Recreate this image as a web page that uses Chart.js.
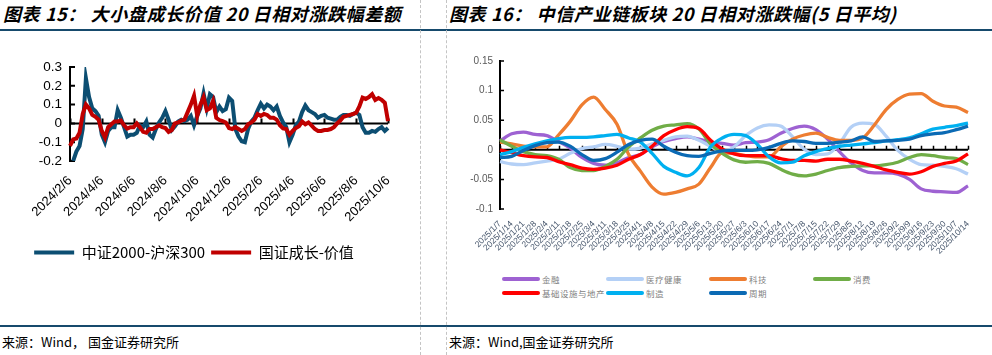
<!DOCTYPE html>
<html><head><meta charset="utf-8">
<script src="https://cdn.jsdelivr.net/npm/chart.js@4.4.0/dist/chart.umd.min.js"></script>
<style>
html,body{margin:0;padding:0;background:#fff;}
#page{position:relative;width:992px;height:355px;overflow:hidden;font-family:"Noto Sans CJK SC",sans-serif;background:#fff;}
.title{position:absolute;top:0px;font-size:18px;line-height:26px;font-weight:bold;font-style:italic;color:#000;white-space:nowrap;letter-spacing:0.6px;}
.hline{position:absolute;left:0;width:992px;height:2px;background:#164a6c;}
.vdash{position:absolute;top:0;height:355px;width:0;border-left:1px dashed #c4c4c4;}
.foot{position:absolute;top:333px;font-size:13px;line-height:18px;color:#000;white-space:nowrap;}
#c1wrap{position:absolute;left:0;top:40px;width:420px;height:240px;}
#c2wrap{position:absolute;left:447px;top:40px;width:545px;height:215px;}
.li{position:absolute;height:12px;display:flex;align-items:center;white-space:nowrap;}
.li span.ln{display:inline-block;width:38px;height:4px;border-radius:2px;margin-right:2px;}
.li span.tx{font-size:8.5px;color:#7f7f7f;letter-spacing:0.5px;}
</style></head>
<body><div id="page">
<div class="title" style="left:3px;">图表 15： 大小盘成长价值 20 日相对涨跌幅差额</div>
<div class="title" style="left:449px;">图表 16： 中信产业链板块 20 日相对涨跌幅(5 日平均)</div>
<div class="hline" style="top:29px;"></div>
<div class="hline" style="top:325px;"></div>
<div class="vdash" style="left:420px;"></div>
<div class="vdash" style="left:446px;"></div>
<div class="foot" style="left:2px;">来源：Wind， 国金证券研究所</div>
<div class="foot" style="left:449px;">来源：Wind,国金证券研究所</div>
<div id="c1wrap"><canvas id="c1"></canvas></div>
<div id="c2wrap"><canvas id="c2"></canvas></div>
</div>
<script>
// ---------- Chart 15 data ----------
const leftTickLabels = ['2024/2/6','2024/4/6','2024/6/6','2024/8/6','2024/10/6','2024/12/6','2025/2/6','2025/4/6','2025/6/6','2025/8/6','2025/10/6'];
const leftStepsPerTick = 10;
const leftSeriesNames = ['中证2000-沪深300','国证成长-价值'];
const csi2000MinusHs300 = [null,-0.2,-0.15,-0.12,-0.03,0.24,0.14,0.08,0.065,0.04,
 -0.06,-0.1,-0.04,-0.02,-0.02,0.07,0.03,-0.02,-0.07,-0.06,
 -0.06,-0.05,-0.01,-0.02,0.01,-0.06,-0.075,-0.03,0.005,0.03,
 0.065,0.02,-0.035,-0.015,0.01,0.02,0.012,0.02,0.04,-0.01,
 0.04,0.08,0.16,0.08,0.155,0.14,0.06,0.09,0.065,0.075,
 0.137,0.12,-0.03,-0.07,-0.095,-0.1,-0.03,0.01,0.03,0.07,
 0.105,0.08,0.1,0.09,0.07,0.09,0.04,0.005,-0.02,-0.1,
 -0.06,-0.01,0.01,0.06,0.095,0.07,0.06,0.05,0.03,0.04,
 0.045,0.03,0.025,0.02,0.02,0.035,0.045,0.045,0.04,0.05,
 0.057,0.045,-0.02,-0.05,-0.05,-0.04,-0.045,-0.03,-0.02,-0.04,
 -0.025];
const growthMinusValue = [-0.12,-0.085,-0.08,-0.05,0.05,0.1,0.08,0.045,0.035,0.02,
 -0.04,-0.075,-0.02,-0.005,0.01,0.01,0.015,-0.01,-0.028,-0.02,
 -0.02,0.0,-0.02,-0.045,-0.05,-0.03,-0.03,-0.02,-0.01,-0.02,
 -0.025,-0.045,-0.035,0.0,0.005,0.015,0.02,0.06,0.1,0.147,
 0.04,0.1,0.14,0.07,0.08,0.12,0.03,0.018,0.012,0.005,
 -0.025,-0.03,-0.02,-0.03,-0.04,-0.03,-0.005,0.005,0.02,0.05,
 0.04,0.05,0.045,0.03,0.03,0.02,-0.01,-0.027,-0.03,-0.06,
 -0.04,-0.025,-0.015,0.01,-0.005,0.005,-0.012,-0.03,-0.04,-0.04,
 -0.035,-0.035,-0.03,-0.02,0.0,0.015,0.035,0.04,0.045,0.05,
 0.057,0.09,0.137,0.13,0.14,0.155,0.125,0.135,0.125,0.11,
 0.012];

// ---------- Chart 16 data ----------
const weekLabels = ['2025/1/7','2025/1/14','2025/1/21','2025/1/28','2025/2/4','2025/2/11','2025/2/18','2025/2/25','2025/3/4','2025/3/11','2025/3/18','2025/3/25','2025/4/1','2025/4/8','2025/4/15','2025/4/22','2025/4/29','2025/5/6','2025/5/13','2025/5/20','2025/5/27','2025/6/3','2025/6/10','2025/6/17','2025/6/24','2025/7/1','2025/7/8','2025/7/15','2025/7/22','2025/7/29','2025/8/5','2025/8/12','2025/8/19','2025/8/26','2025/9/2','2025/9/9','2025/9/16','2025/9/23','2025/9/30','2025/10/7','2025/10/14'];
const sectorNames = ['金融','医疗健康','科技','消费','基础设施与地产','制造','周期'];
const sectorColors = ['#9e62d2','#b4d0f6','#ee7d31','#70ad47','#ff0000','#00b0f0','#0b6ab4'];
const finance = [0.015,0.027,0.03,0.026,0.024,0.014,0.003,-0.013,-0.023,-0.026,-0.022,-0.013,-0.008,0.005,0.014,0.019,0.022,0.018,0.013,0.011,0.008,0.012,0.013,0.017,0.028,0.036,0.04,0.034,0.018,-0.003,-0.022,-0.035,-0.039,-0.039,-0.041,-0.05,-0.066,-0.07,-0.071,-0.072,-0.061];
const healthcare = [-0.02,-0.024,-0.025,-0.022,-0.019,-0.016,-0.006,0.002,0.005,0.009,0.006,0.001,0.003,0.01,0.016,0.022,0.023,0.016,0.006,-0.004,0.005,0.024,0.037,0.042,0.04,0.022,0.001,-0.008,-0.007,0.01,0.038,0.045,0.043,0.023,-0.001,-0.016,-0.025,-0.026,-0.028,-0.032,-0.041];
const technology = [0.013,0.01,0.006,0.005,0.005,0.025,0.048,0.076,0.089,0.068,0.043,-0.008,-0.036,-0.063,-0.075,-0.072,-0.066,-0.058,-0.03,-0.005,-0.006,-0.01,-0.012,-0.012,0.005,0.018,0.025,0.028,0.021,0.016,0.016,0.02,0.042,0.068,0.085,0.094,0.095,0.082,0.074,0.072,0.063];
const consumer = [0.017,0.006,-0.003,-0.008,-0.01,-0.016,-0.03,-0.035,-0.035,-0.028,-0.016,0.005,0.02,0.033,0.04,0.042,0.044,0.035,0.01,-0.006,-0.017,-0.021,-0.02,-0.023,-0.033,-0.041,-0.044,-0.041,-0.035,-0.03,-0.028,-0.027,-0.027,-0.025,-0.021,-0.013,-0.008,-0.01,-0.013,-0.015,-0.025];
const infraRealEstate = [0.0,-0.005,-0.01,-0.012,-0.013,-0.02,-0.025,-0.031,-0.033,-0.031,-0.026,-0.016,-0.008,0.006,0.024,0.034,0.039,0.036,0.016,0.001,-0.007,-0.01,-0.01,-0.01,-0.015,-0.018,-0.018,-0.019,-0.016,-0.016,-0.019,-0.023,-0.028,-0.034,-0.038,-0.041,-0.037,-0.028,-0.023,-0.019,-0.007];
const manufacturing = [-0.008,-0.003,0.004,0.01,0.015,0.019,0.021,0.021,0.022,0.024,0.026,0.02,0.013,-0.006,-0.028,-0.038,-0.044,-0.03,0.005,0.02,0.026,0.024,0.009,-0.012,-0.022,-0.021,-0.01,-0.003,0.002,0.006,0.008,0.01,0.012,0.015,0.017,0.02,0.027,0.035,0.038,0.041,0.045];
const cyclical = [-0.013,-0.011,-0.001,0.007,0.012,0.013,0.006,-0.008,-0.018,-0.015,-0.004,0.009,0.016,0.018,0.006,-0.004,-0.01,-0.011,-0.006,-0.002,-0.001,-0.001,0.0,0.004,0.011,0.015,0.014,0.011,0.011,0.013,0.015,0.022,0.014,0.015,0.016,0.018,0.024,0.027,0.029,0.034,0.04];
const sectorSeries = [finance,healthcare,technology,consumer,infraRealEstate,manufacturing,cyclical];

// ---------- shared plugin: zero line + inside tick marks ----------
const axisDecor = {
  id: 'axisDecor',
  beforeDatasetsDraw(chart, args, opts) {
    const {ctx, chartArea} = chart;
    const xs = chart.scales.x, ys = chart.scales.y;
    const y0 = ys.getPixelForValue(0);
    ctx.save();
    ctx.strokeStyle = '#000';
    ctx.lineWidth = opts.zeroWidth;
    ctx.beginPath();
    ctx.moveTo(chartArea.left, y0); ctx.lineTo(chartArea.right, y0);
    ctx.stroke();
    ctx.lineWidth = opts.tickWidth;
    ctx.beginPath();
    for (let i = 0; i < xs.ticks.length; i++) {
      if (i % opts.xEvery !== 0) continue;
      const px = Math.round(xs.getPixelForTick(i)) + 0.5;
      ctx.moveTo(px, y0); ctx.lineTo(px, y0 - opts.tickLen);
    }
    for (let i = 0; i < ys.ticks.length; i++) {
      const py = ys.getPixelForTick(i);
      ctx.moveTo(chartArea.left, py); ctx.lineTo(chartArea.left + opts.tickLen, py);
    }
    ctx.stroke();
    ctx.restore();
  }
};

function fmt(v){ return String(Number(v.toFixed(2))); }

// ---------- Chart 15 ----------
const leftLabels = [];
for (let j = 0; j < growthMinusValue.length; j++) {
  leftLabels.push(j % leftStepsPerTick === 0 ? leftTickLabels[j / leftStepsPerTick] : '');
}
new Chart(document.getElementById('c1'), {
  type: 'line',
  data: {
    labels: leftLabels,
    datasets: [
      {label: leftSeriesNames[0], data: csi2000MinusHs300, borderColor: '#0c4e72', backgroundColor: '#0c4e72', borderWidth: 4, pointRadius: 0, tension: 0, spanGaps: true, order: 2},
      {label: leftSeriesNames[1], data: growthMinusValue, borderColor: '#c00000', backgroundColor: '#c00000', borderWidth: 4, pointRadius: 0, tension: 0, order: 1}
    ]
  },
  options: {
    responsive: true, maintainAspectRatio: false, animation: false,
    layout: {padding: {left: 0, right: 32, top: 27, bottom: 10}},
    plugins: {
      tooltip: {enabled: false},
      axisDecor: {zeroWidth: 2, tickWidth: 2, tickLen: 5, xEvery: leftStepsPerTick},
      legend: {
        position: 'bottom',
        labels: {
          boxWidth: 40, boxHeight: 4, padding: 6,
          font: {family: '"Noto Sans CJK SC", sans-serif', size: 15}, color: '#000',
          sort: (a, b) => a.datasetIndex - b.datasetIndex,
          generateLabels: (chart) => Chart.defaults.plugins.legend.labels.generateLabels(chart).map(it => Object.assign(it, {lineWidth: 0, fillStyle: it.strokeStyle}))
        }
      }
    },
    scales: {
      x: {
        grid: {display: false, drawTicks: false},
        border: {display: false},
        ticks: {autoSkip: false, maxRotation: 45, minRotation: 45, padding: 12, color: '#000', font: {family: '"Liberation Sans", Arial, sans-serif', size: 13}},
        afterFit: (s) => { s.height = 78; s.paddingLeft = 0; s.paddingRight = 0; }
      },
      y: {
        min: -0.2, max: 0.3,
        grid: {display: false, drawTicks: false},
        border: {display: true, color: '#000', width: 2},
        ticks: {stepSize: 0.1, autoSkip: false, padding: 8, color: '#000', font: {family: '"Liberation Sans", Arial, sans-serif', size: 13.5}, callback: (v) => fmt(v)},
        afterFit: (s) => { s.width = 70; }
      }
    }
  },
  plugins: [axisDecor]
});

// ---------- Chart 16 ----------
new Chart(document.getElementById('c2'), {
  type: 'line',
  data: {
    labels: weekLabels,
    datasets: sectorSeries.map((d, k) => ({
      label: sectorNames[k], data: d, borderColor: sectorColors[k], backgroundColor: sectorColors[k],
      borderWidth: 3.3, pointRadius: 0, tension: 0.4, cubicInterpolationMode: 'monotone', order: sectorSeries.length - k
    }))
  },
  options: {
    responsive: true, maintainAspectRatio: false, animation: false,
    layout: {padding: {left: 0, right: 24, top: 21, bottom: 0}},
    plugins: {
      tooltip: {enabled: false},
      legend: {display: false},
      axisDecor: {zeroWidth: 2, tickWidth: 1.5, tickLen: 4, xEvery: 1}
    },
    scales: {
      x: {
        grid: {display: false, drawTicks: false},
        border: {display: false},
        ticks: {autoSkip: false, maxRotation: 45, minRotation: 45, padding: 10, color: '#44546a', font: {family: '"Liberation Sans", Arial, sans-serif', size: 8.5}},
        afterFit: (s) => { s.height = 46; s.paddingLeft = 0; s.paddingRight = 0; }
      },
      y: {
        min: -0.1, max: 0.15,
        grid: {display: false, drawTicks: false},
        border: {display: true, color: '#000', width: 2},
        ticks: {stepSize: 0.05, autoSkip: false, padding: 7, color: '#595959', font: {family: '"Liberation Sans", Arial, sans-serif', size: 10}, callback: (v) => fmt(v)},
        afterFit: (s) => { s.width = 53; }
      }
    }
  },
  plugins: [axisDecor]
});

// ---------- HTML legend for chart 16 (built from the dataset names/colours) ----------
const legCols = [502, 606, 709, 813];
const legRows = [273, 287];
sectorNames.forEach((name, k) => {
  const d = document.createElement('div');
  d.className = 'li';
  d.style.left = legCols[k % 4] + 'px';
  d.style.top = legRows[Math.floor(k / 4)] + 'px';
  d.innerHTML = '<span class="ln" style="background:' + sectorColors[k] + '"></span><span class="tx">' + name + '</span>';
  document.getElementById('page').appendChild(d);
});
</script>
</body></html>
